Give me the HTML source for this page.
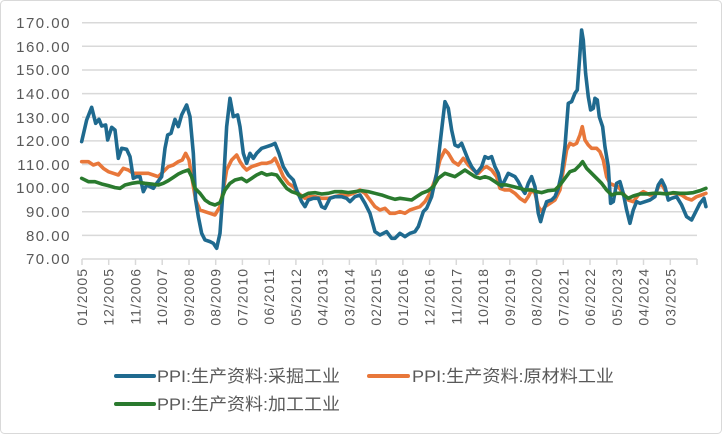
<!DOCTYPE html>
<html><head><meta charset="utf-8"><style>
html,body{margin:0;padding:0;background:#fff;}
svg{display:block;}
text{font-family:"Liberation Sans","Noto Sans CJK SC",sans-serif;fill:#595959;}
</style></head><body>
<svg width="722" height="434" viewBox="0 0 722 434" xmlns="http://www.w3.org/2000/svg">
<rect x="0.5" y="0.5" width="721" height="433" rx="4" fill="#fff" stroke="#d9d9d9"/>
<g stroke="#d9d9d9" stroke-width="1.5">
<line x1="82" x2="697" y1="22.7" y2="22.7"/><line x1="82" x2="697" y1="46.3" y2="46.3"/>
<line x1="82" x2="697" y1="70" y2="70"/><line x1="82" x2="697" y1="93.6" y2="93.6"/>
<line x1="82" x2="697" y1="117.3" y2="117.3"/><line x1="82" x2="697" y1="140.9" y2="140.9"/>
<line x1="82" x2="697" y1="164.5" y2="164.5"/><line x1="82" x2="697" y1="188.1" y2="188.1"/>
<line x1="82" x2="697" y1="211.8" y2="211.8"/><line x1="82" x2="697" y1="235.4" y2="235.4"/>
<line x1="82" x2="697" y1="259" y2="259"/>
<line x1="82" x2="82" y1="259" y2="265"/><line x1="108.7" x2="108.7" y1="259" y2="265"/>
<line x1="135.5" x2="135.5" y1="259" y2="265"/><line x1="162.2" x2="162.2" y1="259" y2="265"/>
<line x1="189" x2="189" y1="259" y2="265"/><line x1="215.7" x2="215.7" y1="259" y2="265"/>
<line x1="242.4" x2="242.4" y1="259" y2="265"/><line x1="269.2" x2="269.2" y1="259" y2="265"/>
<line x1="295.9" x2="295.9" y1="259" y2="265"/><line x1="322.7" x2="322.7" y1="259" y2="265"/>
<line x1="349.4" x2="349.4" y1="259" y2="265"/><line x1="376.1" x2="376.1" y1="259" y2="265"/>
<line x1="402.9" x2="402.9" y1="259" y2="265"/><line x1="429.6" x2="429.6" y1="259" y2="265"/>
<line x1="456.3" x2="456.3" y1="259" y2="265"/><line x1="483.1" x2="483.1" y1="259" y2="265"/>
<line x1="509.8" x2="509.8" y1="259" y2="265"/><line x1="536.6" x2="536.6" y1="259" y2="265"/>
<line x1="563.3" x2="563.3" y1="259" y2="265"/><line x1="590" x2="590" y1="259" y2="265"/>
<line x1="616.8" x2="616.8" y1="259" y2="265"/><line x1="643.5" x2="643.5" y1="259" y2="265"/>
<line x1="670.3" x2="670.3" y1="259" y2="265"/><line x1="697" x2="697" y1="259" y2="265"/>
</g>
<g font-size="15" text-anchor="end" letter-spacing="1.5">
<text x="71" y="28">170.00</text><text x="71" y="52">160.00</text><text x="71" y="75">150.00</text>
<text x="71" y="99">140.00</text><text x="71" y="123">130.00</text><text x="71" y="146">120.00</text>
<text x="71" y="170">110.00</text><text x="71" y="193">100.00</text><text x="71" y="217">90.00</text>
<text x="71" y="241">80.00</text><text x="71" y="264">70.00</text>
</g>
<g font-size="14" text-anchor="end" letter-spacing="1">
<text transform="translate(87,268) rotate(-90)">01/2005</text>
<text transform="translate(113.7,268) rotate(-90)">12/2005</text>
<text transform="translate(140.5,268) rotate(-90)">11/2006</text>
<text transform="translate(167.2,268) rotate(-90)">10/2007</text>
<text transform="translate(194,268) rotate(-90)">09/2008</text>
<text transform="translate(220.7,268) rotate(-90)">08/2009</text>
<text transform="translate(247.4,268) rotate(-90)">07/2010</text>
<text transform="translate(274.2,268) rotate(-90)">06/2011</text>
<text transform="translate(300.9,268) rotate(-90)">05/2012</text>
<text transform="translate(327.7,268) rotate(-90)">04/2013</text>
<text transform="translate(354.4,268) rotate(-90)">03/2014</text>
<text transform="translate(381.1,268) rotate(-90)">02/2015</text>
<text transform="translate(407.9,268) rotate(-90)">01/2016</text>
<text transform="translate(434.6,268) rotate(-90)">12/2016</text>
<text transform="translate(461.3,268) rotate(-90)">11/2017</text>
<text transform="translate(488.1,268) rotate(-90)">10/2018</text>
<text transform="translate(514.8,268) rotate(-90)">09/2019</text>
<text transform="translate(541.6,268) rotate(-90)">08/2020</text>
<text transform="translate(568.3,268) rotate(-90)">07/2021</text>
<text transform="translate(595,268) rotate(-90)">06/2022</text>
<text transform="translate(621.8,268) rotate(-90)">05/2023</text>
<text transform="translate(648.5,268) rotate(-90)">04/2024</text>
<text transform="translate(675.3,268) rotate(-90)">03/2025</text>
</g>
<g transform="translate(75,20) scale(0.3333)" fill="none" stroke-linejoin="round" stroke-linecap="round">
<polyline vector-effect="non-scaling-stroke" stroke="#e8773a" stroke-width="3.6" points="20,425 40,425 55,435 70,430 85,445 100,455 115,460 130,465 145,445 160,450 175,460 190,460 205,460 220,460 235,465 250,470 265,455 280,440 295,435 310,425 322,420 332,400 342,420 352,480 362,540 375,570 390,575 405,580 420,585 435,560 445,510 455,450 470,420 485,405 495,425 505,440 515,450 530,440 545,435 560,430 575,430 590,425 600,415 612,440 625,470 640,490 655,500 670,520 690,535 705,530 720,530 740,535 760,535 780,530 800,525 820,525 835,520 855,510 870,520 885,540 900,560 915,570 930,565 945,580 960,580 975,575 990,580 1005,570 1020,565 1035,560 1050,545 1065,520 1080,480 1095,420 1110,390 1120,400 1135,425 1150,435 1165,415 1180,435 1195,450 1210,460 1225,445 1235,440 1250,450 1265,470 1275,505 1290,510 1305,510 1320,520 1335,535 1350,545 1360,530 1370,510 1380,520 1390,560 1400,575 1410,560 1425,550 1440,540 1455,510 1465,450 1475,390 1485,370 1495,375 1505,370 1515,345 1522,320 1530,360 1540,375 1550,385 1565,385 1575,395 1585,420 1595,470 1605,490 1615,495 1630,500 1645,520 1660,540 1675,545 1690,525 1705,515 1725,525 1740,525 1755,490 1765,500 1775,520 1790,520 1805,520 1820,525 1835,535 1850,540 1865,530 1880,525 1893,520"/>
<polyline vector-effect="non-scaling-stroke" stroke="#1f6a8f" stroke-width="3.6" points="20,365 35,300 50,262 62,310 72,298 80,318 92,315 98,360 110,322 120,330 130,415 140,385 155,388 165,410 175,475 185,470 195,470 205,515 215,495 225,500 235,505 245,490 260,470 270,385 278,345 288,340 300,298 310,320 320,285 335,255 345,290 355,400 362,540 370,590 380,640 390,660 405,665 415,670 425,685 435,640 445,500 455,320 465,235 475,290 488,285 495,320 505,400 515,430 525,400 535,415 545,400 560,385 575,380 590,375 600,370 612,400 625,440 640,465 655,480 665,510 680,545 690,560 700,540 715,535 730,535 740,560 750,565 765,535 780,530 800,530 815,535 825,545 840,530 855,525 870,550 885,580 900,635 915,645 935,635 950,655 960,655 975,640 990,650 1005,640 1020,635 1030,620 1045,575 1055,565 1070,530 1085,460 1100,330 1110,245 1120,265 1130,330 1140,375 1150,380 1160,370 1170,395 1180,420 1190,440 1205,460 1220,440 1230,410 1240,415 1250,410 1260,440 1270,460 1280,500 1290,480 1300,460 1310,465 1320,470 1330,485 1340,505 1350,520 1360,490 1370,470 1380,500 1390,580 1397,605 1405,575 1415,545 1430,540 1440,530 1450,505 1460,460 1470,380 1480,250 1490,245 1500,220 1507,210 1515,100 1520,30 1525,60 1532,160 1540,230 1547,270 1555,265 1560,235 1567,240 1573,290 1583,320 1590,380 1600,440 1607,550 1615,545 1625,490 1635,485 1645,520 1655,570 1665,610 1675,570 1685,545 1695,550 1710,545 1725,540 1740,530 1750,495 1760,480 1770,500 1780,540 1790,535 1805,530 1820,555 1835,590 1850,600 1860,580 1875,550 1887,535 1893,560"/>
<polyline vector-effect="non-scaling-stroke" stroke="#2a7a2e" stroke-width="3.6" points="20,475 40,485 60,485 80,492 100,497 120,503 135,505 150,495 170,490 190,487 210,490 230,492 250,495 265,490 280,482 295,472 310,462 325,455 340,450 350,470 360,505 375,520 390,540 405,550 420,555 435,548 450,510 465,490 480,480 500,475 515,485 530,475 545,465 560,458 575,465 590,462 605,465 620,485 635,505 650,515 665,520 680,530 700,520 720,518 740,522 760,520 780,515 800,515 820,518 840,515 860,512 880,515 900,520 920,525 940,532 960,538 975,535 990,537 1010,540 1025,530 1040,520 1060,512 1075,500 1090,475 1110,460 1125,465 1140,470 1155,460 1170,450 1185,460 1200,470 1215,475 1230,470 1245,475 1260,485 1275,495 1295,495 1315,500 1335,505 1350,510 1370,510 1385,515 1400,518 1420,512 1440,510 1455,495 1470,475 1485,455 1500,450 1515,435 1523,425 1535,445 1550,460 1565,475 1580,490 1595,510 1610,525 1625,520 1640,520 1660,535 1675,528 1695,522 1715,522 1735,520 1755,520 1775,522 1795,518 1815,520 1835,520 1855,518 1875,512 1893,505"/>
</g>
<g stroke-width="4" stroke-linecap="round">
<line x1="116" x2="154" y1="376" y2="376" stroke="#1f6a8f"/>
<line x1="369" x2="408" y1="376" y2="376" stroke="#e8773a"/>
<line x1="116" x2="154" y1="404" y2="404" stroke="#2a7a2e"/>
</g>
<g font-size="17">
<text x="157" y="382" textLength="183" lengthAdjust="spacingAndGlyphs">PPI:生产资料:采掘工业</text>
<text x="412" y="382" textLength="202" lengthAdjust="spacingAndGlyphs">PPI:生产资料:原材料工业</text>
<text x="157" y="410" textLength="183" lengthAdjust="spacingAndGlyphs">PPI:生产资料:加工工业</text>
</g>
</svg>
</body></html>
